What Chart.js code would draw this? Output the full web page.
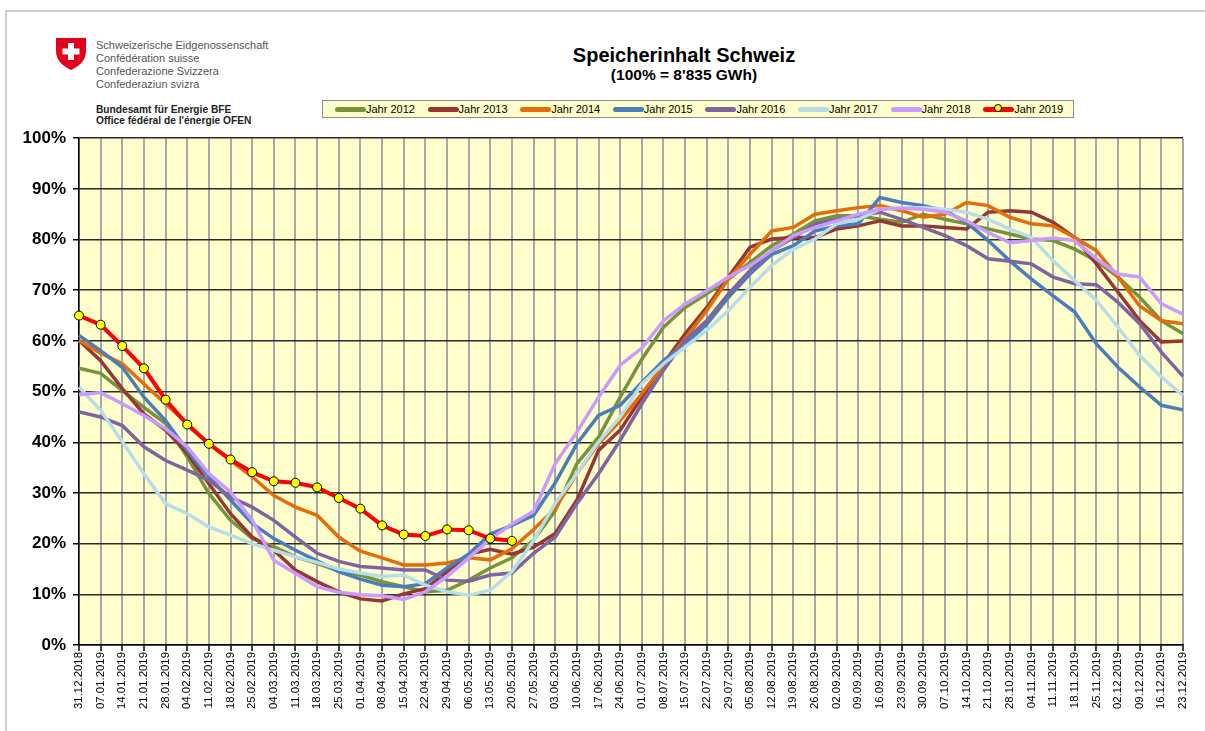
<!DOCTYPE html>
<html lang="de">
<head>
<meta charset="UTF-8">
<title>Speicherinhalt Schweiz</title>
<script src="https://cdn.jsdelivr.net/npm/chart.js"></script>
<style>
    body { margin: 0; background: #fff; font-family: Arial, "Liberation Sans", sans-serif; }
    #page { position: relative; width: 1205px; height: 731px; overflow: hidden; }
    #frame { position: absolute; left: 5px; top: 10px; right: 0; bottom: 0; border-left: 2px solid #d0d0d0; border-top: 2px solid #d0d0d0; }
    #logo { position: absolute; left: 56px; top: 38px; }
    .fed { position: absolute; left: 96px; font-size: 11px; color: #555; white-space: nowrap; }
    .bfe { position: absolute; left: 96px; font-size: 10.2px; font-weight: bold; color: #222; white-space: nowrap; }
    #title { position: absolute; left: 484px; width: 400px; top: 44px; text-align: center; font-size: 20px; font-weight: bold; }
    #subtitle { position: absolute; left: 484px; width: 400px; top: 66px; text-align: center; font-size: 15.5px; font-weight: bold; }
    #legend { position: absolute; left: 322px; top: 100px; width: 750px; height: 16px; background: #ffffcc; border: 1px solid #8c8c8c; }
    .item { position: absolute; top: 0; height: 16px; line-height: 16px; font-size: 11px; white-space: nowrap; }
    .swatch { display: inline-block; position: relative; width: 31px; height: 5px; border-radius: 3px; vertical-align: middle; margin-top: -2px; }
    .dot { position: absolute; left: 11px; top: -2.5px; width: 8px; height: 8px; border-radius: 50%; background: #ffff00; border: 1px solid #000; box-sizing: border-box; }
    #wrap { position: absolute; left: 0; top: 121px; }
</style>
</head>
<body>
<div id="page">
    <div id="frame"></div>
    <svg id="logo" width="30" height="32" viewBox="0 0 30 32">
        <path d="M0,0 H30 V13 C30,24 21,29 15,32 C9,29 0,24 0,13 Z" fill="#e3001b"/>
        <rect x="12" y="5" width="6" height="17" fill="#fff"/>
        <rect x="6.5" y="10.5" width="17" height="6" fill="#fff"/>
    </svg>
    <div class="fed" style="top:39px">Schweizerische Eidgenossenschaft</div>
    <div class="fed" style="top:52px">Confédération suisse</div>
    <div class="fed" style="top:65px">Confederazione Svizzera</div>
    <div class="fed" style="top:78px">Confederaziun svizra</div>
    <div class="bfe" style="top:104px">Bundesamt für Energie BFE</div>
    <div class="bfe" style="top:115px">Office fédéral de l'énergie OFEN</div>

    <div id="title">Speicherinhalt Schweiz</div>
    <div id="subtitle">(100% = 8'835 GWh)</div>

    <div id="legend"></div>

    <div id="wrap"><canvas id="chart" width="1205" height="610"></canvas></div>
</div>

<script>
    const weeks = ['31.12.2018','07.01.2019','14.01.2019','21.01.2019','28.01.2019','04.02.2019','11.02.2019','18.02.2019','25.02.2019',
        '04.03.2019','11.03.2019','18.03.2019','25.03.2019','01.04.2019','08.04.2019','15.04.2019','22.04.2019','29.04.2019',
        '06.05.2019','13.05.2019','20.05.2019','27.05.2019','03.06.2019','10.06.2019','17.06.2019','24.06.2019','01.07.2019',
        '08.07.2019','15.07.2019','22.07.2019','29.07.2019','05.08.2019','12.08.2019','19.08.2019','26.08.2019','02.09.2019',
        '09.09.2019','16.09.2019','23.09.2019','30.09.2019','07.10.2019','14.10.2019','21.10.2019','28.10.2019','04.11.2019',
        '11.11.2019','18.11.2019','25.11.2019','02.12.2019','09.12.2019','16.12.2019','23.12.2019'];

    // Füllgrad in % pro Woche
    const jahr2012 = [54.6,53.6,50.2,46.9,43.7,37.1,29.9,24.6,21.0,19.4,17.4,16.1,14.6,13.8,12.5,11.5,10.5,10.8,12.8,15.2,17.2,20.7,26.5,35.8,
        41.0,48.9,56.4,62.7,66.6,69.3,72.2,75.5,78.8,81.1,83.7,84.7,84.7,84.0,83.4,85.0,84.0,83.1,82.1,81.1,80.1,79.8,78.1,75.8,72.6,68.6,64.0,61.4];
    const jahr2013 = [60.1,56.1,50.6,45.6,42.4,37.8,31.8,25.9,21.3,18.7,14.8,12.5,10.5,9.1,8.7,10.1,11.1,14.5,17.9,18.9,17.9,19.3,22.0,28.6,
        38.4,42.4,48.9,55.5,61.4,66.6,72.6,78.5,80.1,80.4,80.4,82.1,82.7,83.7,82.7,82.7,82.4,82.1,85.4,85.7,85.4,83.4,80.4,75.2,69.6,64.0,59.8,60.0];
    const jahr2014 = [60.1,57.6,55.5,51.5,47.6,43.7,39.7,36.4,33.2,29.5,27.2,25.6,21.3,18.5,17.2,15.8,15.8,16.2,17.2,16.8,19.0,22.8,27.0,33.8,
        39.7,44.3,49.6,55.2,60.4,66.0,72.2,77.1,81.7,82.4,85.0,85.7,86.3,86.7,85.7,84.4,85.0,87.3,86.7,84.4,83.1,82.7,80.4,77.8,72.6,66.9,64.0,63.4];
    const jahr2015 = [61.1,58.1,54.8,48.9,44.3,38.4,33.2,28.6,24.0,21.0,18.7,16.6,14.5,13.0,11.8,11.5,12.1,15.2,17.9,21.9,23.6,25.6,32.0,39.7,
        45.3,47.3,51.8,56.1,59.4,63.3,68.6,73.2,77.1,78.8,81.7,82.7,83.1,88.3,87.3,86.7,85.7,83.4,79.8,75.8,72.2,68.9,65.7,59.4,54.8,50.9,47.3,46.4];
    const jahr2016 = [46.0,45.0,43.3,39.1,36.4,34.5,32.5,29.2,27.2,24.6,21.3,18.1,16.5,15.5,15.2,14.8,14.8,12.8,12.6,13.8,14.2,18.1,21.3,27.9,
        33.8,40.4,47.6,54.2,60.1,64.0,69.3,73.9,77.8,80.4,83.1,84.0,84.7,85.4,84.0,82.4,80.8,78.8,76.2,75.7,75.2,72.6,71.3,71.1,67.6,63.4,57.8,53.0];
    const jahr2017 = [50.9,46.3,40.1,33.8,27.9,25.9,23.3,21.7,20.0,18.7,17.4,16.3,15.0,14.2,13.5,13.8,11.8,10.5,9.8,10.8,14.5,20.6,28.0,33.8,
        40.1,45.0,51.5,55.5,58.8,62.1,66.0,70.6,74.9,78.1,80.1,83.1,84.0,86.0,86.3,86.3,86.0,85.4,84.0,82.1,80.4,75.8,71.9,68.0,62.7,57.1,52.9,49.2];
    const jahr2018 = [49.4,49.8,47.6,45.3,42.7,39.1,33.8,30.2,24.6,16.7,14.1,11.5,10.4,9.9,9.7,9.0,10.5,13.5,17.2,20.9,23.9,26.4,35.8,42.0,
        48.9,55.2,58.6,64.0,67.3,69.9,72.6,74.9,77.8,80.8,82.4,83.7,85.0,86.0,86.2,86.0,85.4,83.7,81.4,79.4,79.8,80.3,79.8,76.2,73.2,72.6,67.3,65.3];
    const jahr2019 = [65.0,63.2,59.0,54.6,48.4,43.5,39.7,36.6,34.1,32.3,32.0,31.1,29.0,26.9,23.6,21.8,21.5,22.8,22.65,21.0,20.55];

    const seriesNames = ['Jahr 2012','Jahr 2013','Jahr 2014','Jahr 2015','Jahr 2016','Jahr 2017','Jahr 2018','Jahr 2019'];
    const seriesData = [jahr2012, jahr2013, jahr2014, jahr2015, jahr2016, jahr2017, jahr2018, jahr2019];
    const seriesColors = ['#77933c','#953735','#e46c0a','#4a7ebb','#8064a2','#b7dee8','#cc99ff','#ff0000'];

    const datasets = seriesNames.map((name, i) => {
        const last = i === seriesNames.length - 1;
        return {
            label: name,
            data: seriesData[i],
            borderColor: seriesColors[i],
            backgroundColor: seriesColors[i],
            borderWidth: last ? 4 : 3.5,
            pointRadius: last ? 4.5 : 0,
            pointBackgroundColor: '#ffff00',
            pointBorderColor: '#000',
            pointBorderWidth: 1,
            tension: 0,
            order: seriesNames.length - 1 - i   // 2019 on top
        };
    });

    // legend
    const legend = document.getElementById('legend');
    seriesNames.forEach((name, i) => {
        const item = document.createElement('div');
        item.className = 'item';
        item.style.left = (12 + i * 92.6) + 'px';
        const dot = i === seriesNames.length - 1 ? '<span class="dot"></span>' : '';
        item.innerHTML = `<span class="swatch" style="background:${seriesColors[i]}">${dot}</span>${name}`;
        legend.appendChild(item);
    });

    const plotBackground = {
        id: 'plotBackground',
        beforeDraw(chart) {
            const a = chart.chartArea;
            chart.ctx.save();
            chart.ctx.fillStyle = '#ffffcc';
            chart.ctx.fillRect(a.left, a.top, a.right - a.left, a.bottom - a.top);
            chart.ctx.restore();
        }
    };

    const ctx = document.getElementById('chart').getContext('2d');
    new Chart(ctx, {
        type: 'line',
        data: { labels: weeks, datasets: datasets },
        options: {
            responsive: false,
            animation: false,
            layout: { padding: { top: 4, right: 22, left: 0, bottom: 0 } },
            plugins: { legend: { display: false }, tooltip: { enabled: false } },
            scales: {
                x: {
                    grid: { color: '#a8a8a8', lineWidth: 2, tickColor: '#000', tickLength: 6, tickWidth: 1.5 },
                    border: { color: '#000', width: 1.5 },
                    ticks: { autoSkip: false, minRotation: 90, maxRotation: 90, padding: 1, color: '#000',
                             font: { family: 'Arial', size: 11.4 } },
                    afterFit: s => { s.height = 86; }
                },
                y: {
                    min: 0, max: 100,
                    grid: { color: '#2b2b2b', lineWidth: 1.5, tickColor: '#000', tickLength: 6 },
                    border: { color: '#000', width: 1.5 },
                    ticks: { stepSize: 10, padding: 7, color: '#000', callback: v => v + '%',
                             font: { family: 'Arial', size: 17, weight: 'bold' } },
                    afterFit: s => { s.width = 79; }
                }
            }
        },
        plugins: [plotBackground]
    });
</script>
</body>
</html>
